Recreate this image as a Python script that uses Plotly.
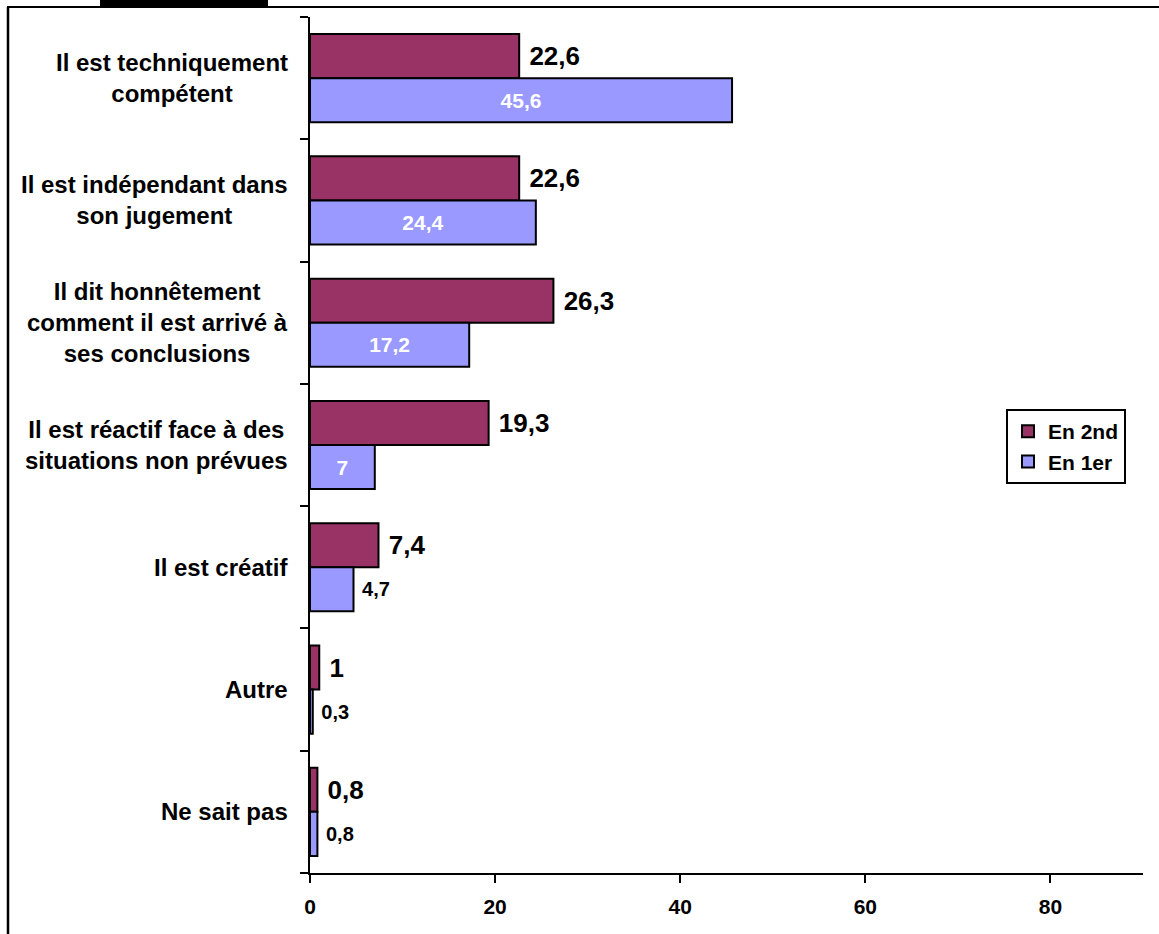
import plotly.graph_objects as go

categories = [
    "Il est techniquement<br>compétent",
    "Il est indépendant dans<br>son jugement",
    "Il dit honnêtement<br>comment il est arrivé à<br>ses conclusions",
    "Il est réactif face à des<br>situations non prévues",
    "Il est créatif",
    "Autre",
    "Ne sait pas",
]
en_2nd = [22.6, 22.6, 26.3, 19.3, 7.4, 1, 0.8]
en_1er = [45.6, 24.4, 17.2, 7, 4.7, 0.3, 0.8]
xticks = [0, 20, 40, 60, 80]

FONT = "Liberation Sans, Arial, sans-serif"
W, H = 1159, 934
L, R, T, B = 310, 16, 17, 61
PW = W - L - R
PH = H - T - B


def fmt(v):
    return ("%g" % v).replace(".", ",")


def px(page_x):
    return (page_x - L) / PW


def py(page_y):
    return (H - B - page_y) / PH


cat_ids = list(range(len(categories)))
NB = "\u00a0"

fig = go.Figure()
fig.add_trace(go.Bar(
    name="En 2nd", y=cat_ids, x=en_2nd, orientation="h",
    marker=dict(color="#993366", line=dict(color="black", width=2)),
    text=[NB + fmt(v) for v in en_2nd], textposition="outside",
    outsidetextfont=dict(family=FONT, size=26, color="black", weight="bold"),
    cliponaxis=False,
))
pos_1er = ["inside" if v >= 6 else "outside" for v in en_1er]
txt_1er = [fmt(v) if p == "inside" else NB + fmt(v) for v, p in zip(en_1er, pos_1er)]
fig.add_trace(go.Bar(
    name="En 1er", y=cat_ids, x=en_1er, orientation="h",
    marker=dict(color="#9999FF", line=dict(color="black", width=2)),
    text=txt_1er, textposition=pos_1er,
    insidetextanchor="middle",
    insidetextfont=dict(family=FONT, size=21, color="white", weight="bold"),
    outsidetextfont=dict(family=FONT, size=20, color="black", weight="bold"),
    cliponaxis=False,
))

for i, c in enumerate(categories):
    fig.add_annotation(
        x=0, xref="paper", xshift=-20, xanchor="right",
        y=i, yref="y", yanchor="middle",
        text=c, showarrow=False, align="center",
        font=dict(family=FONT, size=24, color="black", weight="bold"),
    )

shapes = [
    dict(type="line", xref="paper", yref="paper",
         x0=px(8), x1=px(8), y0=py(7), y1=py(945),
         line=dict(color="black", width=2.5)),
    dict(type="line", xref="paper", yref="paper",
         x0=px(7), x1=px(1170), y0=py(7), y1=py(7),
         line=dict(color="black", width=2)),
    dict(type="rect", xref="paper", yref="paper",
         x0=px(100), x1=px(268), y0=py(-2), y1=py(6),
         line=dict(width=0), fillcolor="black"),
]

fig.update_layout(
    width=W, height=H,
    margin=dict(l=L, r=R, t=T, b=B, pad=0),
    paper_bgcolor="white", plot_bgcolor="white",
    barmode="group", bargap=0.279, bargroupgap=0,
    font=dict(family=FONT, color="black"),
    shapes=shapes,
    showlegend=True,
    legend=dict(
        x=px(1006), y=py(409), xanchor="left", yanchor="top",
        bgcolor="white", bordercolor="black", borderwidth=2,
        font=dict(family=FONT, size=21, color="black", weight="bold"),
        traceorder="normal", tracegroupgap=0,
    ),
    xaxis=dict(
        range=[0, 90], tickvals=xticks, ticktext=[str(v) for v in xticks],
        showgrid=False, zeroline=False,
        showline=True, linecolor="black", linewidth=2,
        ticks="outside", ticklen=8, tickwidth=2, tickcolor="black",
        tickfont=dict(family=FONT, size=21, color="black", weight="bold"),
        ticklabelstandoff=6,
    ),
    yaxis=dict(
        type="linear", range=[6.5, -0.5],
        tickmode="array", tickvals=[i - 0.5 for i in range(len(categories) + 1)],
        showticklabels=False,
        showgrid=False, zeroline=False,
        showline=True, linecolor="black", linewidth=2,
        ticks="outside", ticklen=8, tickwidth=2, tickcolor="black",
    ),
)

fig.write_html(
    "out.html",
    config={"displayModeBar": False},
    post_script="document.body.style.margin='0';document.body.style.overflow='hidden';",
)
